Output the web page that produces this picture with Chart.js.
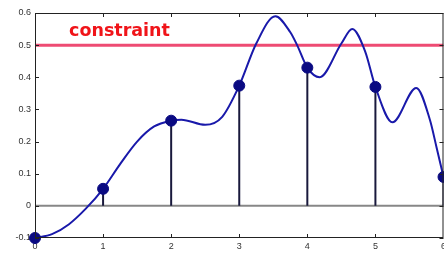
<!DOCTYPE html>
<html>
<head>
<meta charset="utf-8">
<script src="https://cdn.jsdelivr.net/npm/chart.js@4.4.1/dist/chart.umd.min.js"></script>
<style>
html, body { margin: 0; padding: 0; background: #fff; }
#wrap { width: 444px; height: 253px; }
</style>
</head>
<body>
<div id="wrap"><canvas id="grafico"></canvas></div>
<script>
// muestras (puntos con tallo)
const sampleX = [0, 1, 2, 3, 4, 5, 6];
const sampleY = [-0.1, 0.053, 0.265, 0.374, 0.43, 0.37, 0.09];

// curva continua
const curveX = [0, 0.25, 0.5, 0.75, 1, 1.25, 1.5, 1.75, 2, 2.15, 2.5, 2.75, 3, 3.25, 3.53, 3.75, 3.85, 4, 4.18, 4.5, 4.66, 4.85, 5, 5.25, 5.6, 5.8, 5.9, 6];
const curveY = [-0.1, -0.088, -0.057, -0.008, 0.053, 0.13, 0.2, 0.247, 0.265, 0.268, 0.252, 0.277, 0.374, 0.505, 0.59, 0.54, 0.5, 0.43, 0.4, 0.505, 0.55, 0.48, 0.37, 0.26, 0.367, 0.268, 0.18, 0.09];

const constraintValue = 0.5;
const xTicks = [0, 1, 2, 3, 4, 5, 6];
const yTicks = [-0.1, 0, 0.1, 0.2, 0.3, 0.4, 0.5, 0.6];

const stems = sampleX.flatMap((x, i) => [{ x, y: 0 }, { x, y: sampleY[i] }, { x, y: null }]);

const marco = {
  id: 'marco',
  afterDatasetsDraw(chart) {
    const { ctx, chartArea: a, scales: { x, y } } = chart;
    ctx.save();
    ctx.strokeStyle = '#222';
    ctx.lineWidth = 1;
    ctx.strokeRect(a.left + 0.5, a.top + 0.5, a.right - a.left - 1, a.bottom - a.top - 1);
    ctx.beginPath();
    xTicks.forEach(v => {
      const px = Math.round(x.getPixelForValue(v)) + 0.5;
      ctx.moveTo(px, a.top); ctx.lineTo(px, a.top + 4);
      ctx.moveTo(px, a.bottom); ctx.lineTo(px, a.bottom - 4);
    });
    yTicks.forEach(v => {
      const py = Math.round(y.getPixelForValue(v)) + 0.5;
      ctx.moveTo(a.left, py); ctx.lineTo(a.left + 4, py);
      ctx.moveTo(a.right, py); ctx.lineTo(a.right - 4, py);
    });
    ctx.stroke();
    // etiqueta de la restricción
    ctx.fillStyle = 'rgb(240,20,25)';
    ctx.font = 'bold 17.5px "DejaVu Sans"';
    ctx.textBaseline = 'alphabetic';
    ctx.fillText('constraint', x.getPixelForValue(0.5), y.getPixelForValue(constraintValue) - 9);
    ctx.restore();
  }
};

new Chart(document.getElementById('grafico'), {
  type: 'scatter',
  data: {
    datasets: [
      {
        data: sampleX.map((x, i) => ({ x, y: sampleY[i] })),
        backgroundColor: 'rgb(10,10,130)',
        borderColor: 'rgb(10,10,130)',
        pointRadius: 5.5,
        showLine: false,
        clip: false
      },
      {
        data: curveX.map((x, i) => ({ x, y: curveY[i] })),
        borderColor: 'rgb(25,25,170)',
        borderWidth: 2,
        pointRadius: 0,
        showLine: true,
        cubicInterpolationMode: 'monotone'
      },
      {
        data: stems,
        borderColor: 'rgb(25,25,60)',
        borderWidth: 2,
        pointRadius: 0,
        showLine: true,
        spanGaps: false
      },
      {
        data: [{ x: 0, y: constraintValue }, { x: 6, y: constraintValue }],
        borderColor: 'rgb(238,75,115)',
        borderWidth: 3,
        pointRadius: 0,
        showLine: true
      },
      {
        data: [{ x: 0, y: 0 }, { x: 6, y: 0 }],
        borderColor: 'rgb(135,135,135)',
        borderWidth: 2,
        pointRadius: 0,
        showLine: true
      }
    ]
  },
  options: {
    responsive: true,
    maintainAspectRatio: false,
    animation: false,
    layout: { autoPadding: false, padding: { top: 13, right: 0.5, left: 0, bottom: 0 } },
    plugins: { legend: { display: false }, tooltip: { enabled: false } },
    scales: {
      x: {
        type: 'linear', min: 0, max: 6,
        grid: { display: false, drawTicks: false },
        border: { display: false },
        afterBuildTicks: s => { s.ticks = xTicks.map(v => ({ value: v })); },
        ticks: { color: '#333', padding: 3, maxRotation: 0, font: { family: 'Liberation Sans', size: 9 } },
        afterFit: s => { s.height = 15; s.paddingLeft = 0; s.paddingRight = 0; }
      },
      y: {
        type: 'linear', min: -0.1, max: 0.6,
        grid: { display: false, drawTicks: false },
        border: { display: false },
        afterBuildTicks: s => { s.ticks = yTicks.map(v => ({ value: v })); },
        ticks: { color: '#333', padding: 4, callback: v => String(v), font: { family: 'Liberation Sans', size: 9 } },
        afterFit: s => { s.width = 35; }
      }
    }
  },
  plugins: [marco]
});
</script>
</body>
</html>
